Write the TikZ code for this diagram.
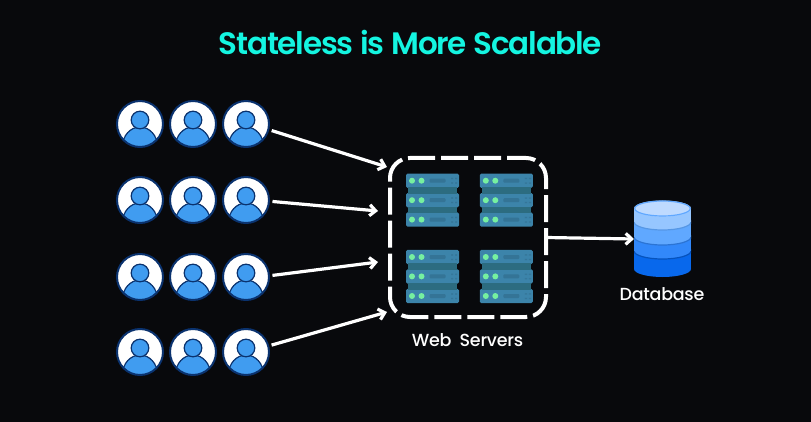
\documentclass[tikz,border=0pt]{standalone}
\usepackage{fontspec}
\setmainfont{Poppins}
\newfontfamily\titlefont[UprightFont=* SemiBold, LetterSpace=-4, WordSpace=1.1]{Poppins}
\newfontfamily\labelfont[UprightFont=* Medium, LetterSpace=-1.5, WordSpace=1.9]{Poppins}
\usetikzlibrary{arrows.meta}
\definecolor{pagebg}{RGB}{8, 9, 12}
\definecolor{titlecyan}{RGB}{20, 245, 225}
\definecolor{usernavy}{RGB}{10, 50, 110}
\definecolor{userblue}{RGB}{64, 156, 240}
\definecolor{serverblue}{RGB}{60, 132, 170}
\definecolor{serverdark}{RGB}{44, 108, 128}
\definecolor{serverslot}{RGB}{52, 116, 150}
\definecolor{serverled}{RGB}{118, 240, 160}
\definecolor{dbtop}{RGB}{190, 218, 255}
\definecolor{dbone}{RGB}{150, 198, 255}
\definecolor{dbtwo}{RGB}{96, 168, 255}
\definecolor{dbthree}{RGB}{50, 136, 250}
\definecolor{dbfour}{RGB}{8, 104, 236}

\begin{document}
\begin{tikzpicture}[
    x=1pt, y=-1pt,
    userbox/.style={circle, draw=usernavy, line width=2pt, fill=white, minimum size=46pt, inner sep=0pt,
      path picture={
        \begin{scope}[shift={(path picture bounding box.center)}]
          \draw[usernavy, line width=1.2pt, fill=userblue] (0,22.5) ellipse [x radius=17.5, y radius=19.5];
          \draw[usernavy, line width=1.2pt, fill=userblue] (0,-4) circle [radius=8.8];
        \end{scope}
      }},
    serverbox/.style={rectangle, fill=serverblue, rounded corners=1.5pt, minimum width=53pt, minimum height=14.3pt, inner sep=0pt,
      path picture={
        \begin{scope}[shift={(path picture bounding box.center)}]
          \fill[serverled] (-20.5,0) circle [radius=3];
          \fill[serverled] (-11,0) circle [radius=3];
          \fill[serverslot, rounded corners=1pt] (-3,-2) rectangle (13,2);
          \foreach \dotx in {18.5,22.5}
            \foreach \doty in {-3,1.5}
              \fill[serverslot] (\dotx,\doty) rectangle ++(2.2,1.8);
        \end{scope}
      }},
    rack/.style={serverdark, line width=49pt, shorten <=-1pt, shorten >=-1pt},
    arrow/.style={-{Straight Barb[length=6pt, width=11pt]}, white, line width=3.2pt, shorten <=2.5pt},
    label/.style={white, font=\labelfont\fontsize{17.5}{20}\selectfont}
  ]
    \useasboundingbox (0,0) rectangle (811,422);
    \fill[pagebg] (0,0) rectangle (811,422);

    \node[text=titlecyan, font=\titlefont\fontsize{31}{36}\selectfont] at (410.5,42) (title) {Stateless is More Scalable};

    \node[userbox] at (140,124) (user11) {};
    \node[userbox] at (193,124) (user12) {};
    \node[userbox] at (246,124) (user13) {};
    \node[userbox] at (140,200) (user21) {};
    \node[userbox] at (193,200) (user22) {};
    \node[userbox] at (246,200) (user23) {};
    \node[userbox] at (140,277) (user31) {};
    \node[userbox] at (193,277) (user32) {};
    \node[userbox] at (246,277) (user33) {};
    \node[userbox] at (140,352) (user41) {};
    \node[userbox] at (193,352) (user42) {};
    \node[userbox] at (246,352) (user43) {};

    \node[serverbox] at (432.5,180.7) (srva1) {};
    \node[serverbox] at (432.5,200.2) (srva2) {};
    \node[serverbox] at (432.5,219.6) (srva3) {};
    \node[serverbox] at (506.3,180.7) (srvb1) {};
    \node[serverbox] at (506.3,200.2) (srvb2) {};
    \node[serverbox] at (506.3,219.6) (srvb3) {};
    \node[serverbox] at (432.5,257) (srvc1) {};
    \node[serverbox] at (432.5,276.4) (srvc2) {};
    \node[serverbox] at (432.5,296) (srvc3) {};
    \node[serverbox] at (506.3,257) (srvd1) {};
    \node[serverbox] at (506.3,276.4) (srvd2) {};
    \node[serverbox] at (506.3,296) (srvd3) {};

    \draw[rack] (srva1.south) -- (srva2.north);
    \draw[rack] (srva2.south) -- (srva3.north);
    \draw[rack] (srvb1.south) -- (srvb2.north);
    \draw[rack] (srvb2.south) -- (srvb3.north);
    \draw[rack] (srvc1.south) -- (srvc2.north);
    \draw[rack] (srvc2.south) -- (srvc3.north);
    \draw[rack] (srvd1.south) -- (srvd2.north);
    \draw[rack] (srvd2.south) -- (srvd3.north);

    \node[draw=white, line width=4pt, dash pattern=on 27pt off 6pt, dash phase=8pt, rounded corners=20pt, minimum width=156pt, minimum height=159pt, outer sep=0pt] at (468,237.5) (web) {};
    \node[label] at (467.5,340) (weblabel) {Web Servers};

    \node[minimum width=57pt, minimum height=77pt, inner sep=0pt, outer sep=0pt,
      path picture={
        \begin{scope}[shift={(path picture bounding box.center)}]
          \fill[dbfour] (0,30) ellipse [x radius=28.5, y radius=8];
          \fill[dbfour] (-28.5,12) rectangle (28.5,30);
          \draw[dbfour!80!black, fill=dbthree, line width=1.2pt] (0,12) ellipse [x radius=28.5, y radius=8];
          \fill[dbthree] (-28.5,-2) rectangle (28.5,12);
          \draw[dbthree!85!black, fill=dbtwo, line width=1.2pt] (0,-2) ellipse [x radius=28.5, y radius=8];
          \fill[dbtwo] (-28.5,-17) rectangle (28.5,-2);
          \draw[dbtwo!90!black, fill=dbone, line width=1.2pt] (0,-17) ellipse [x radius=28.5, y radius=8];
          \fill[dbone] (-28.5,-30.5) rectangle (28.5,-17);
          \fill[dbtop] (0,-30.5) ellipse [x radius=28.5, y radius=8];
          \draw[dbtwo, line width=1.2pt] (0,-30.5) ellipse [x radius=27.8, y radius=7.5];
        \end{scope}
      }] at (662.5,239) (db) {};
    \node[label] at (662,294.5) (dblabel) {Database};

    \coordinate (webin1) at (387,167);
    \coordinate (webin2) at (378,211);
    \coordinate (webin3) at (378,262);
    \coordinate (webin4) at (387,312);

    \draw[arrow] (user13.-14) -- (webin1);
    \draw[arrow] (user23.-3) -- (webin2);
    \draw[arrow] (user33.3) -- (webin3);
    \draw[arrow] (user43.15) -- (webin4);
    \draw[arrow, shorten <=0pt] (web.east) -- (db.west);
  \end{tikzpicture}
\end{document}
